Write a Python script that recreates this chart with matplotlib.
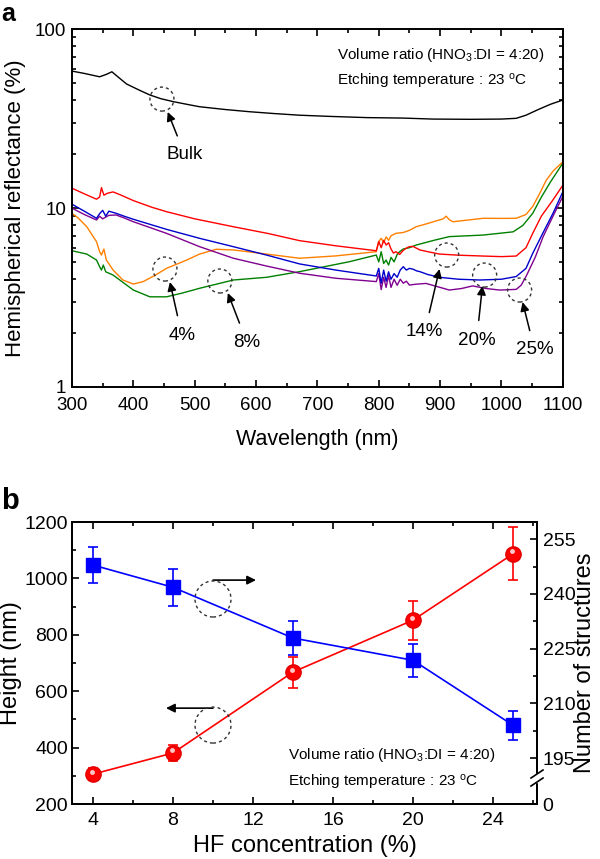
import numpy as np
import matplotlib
matplotlib.use('Agg')
import matplotlib.pyplot as plt
from matplotlib.patches import Ellipse
from matplotlib.ticker import MultipleLocator, FixedLocator, NullFormatter, FuncFormatter
from matplotlib.transforms import offset_copy

plt.rcParams['font.family'] = ['Liberation Sans', 'DejaVu Sans']
plt.rcParams['mathtext.fontset'] = 'custom'
plt.rcParams['mathtext.rm'] = 'Liberation Sans'
plt.rcParams['mathtext.it'] = 'Liberation Sans:italic'
plt.rcParams['mathtext.bf'] = 'Liberation Sans:bold'

# ---------------- Panel a data ----------------
bulk_wl = [300, 320, 345, 356, 365, 375, 389, 410, 427, 445, 465, 490, 508, 550, 590, 630, 671,
           720, 780, 840, 888, 950, 1000, 1024, 1040, 1060, 1080, 1100]
bulk_R = [58.2, 56.5, 54.1, 55.8, 57.7, 54.0, 49.3, 45.5, 42.8, 40.8, 39.3, 37.8, 36.8, 35.5, 34.5,
          33.7, 33.0, 32.5, 32.0, 31.8, 31.4, 31.3, 31.4, 31.7, 33.0, 35.5, 38.0, 40.1]

red_wl = [300, 320, 340, 345, 348, 352, 358, 367, 380, 400, 430, 454, 500, 563, 620, 671, 730, 796,
          800, 804, 808, 812, 816, 820, 824, 828, 834, 840, 846, 850, 856, 862, 867, 880, 899, 930,
          970, 1000, 1024, 1040, 1051, 1065, 1084, 1100]
red_R = [12.9, 12.0, 11.2, 11.5, 13.0, 11.8, 12.1, 12.3, 11.8, 11.0, 10.1, 9.54, 8.7, 7.86, 7.2,
         6.57, 6.15, 5.77, 6.5, 6.0, 6.6, 6.21, 6.4, 5.9, 5.6, 5.70, 5.5, 5.8, 6.0, 6.08, 6.1, 5.95,
         5.83, 5.7, 5.53, 5.45, 5.39, 5.35, 5.39, 6.0, 7.22, 9.0, 11.1, 13.4]

blue_wl = [300, 320, 340, 345, 350, 355, 360, 372, 385, 400, 454, 508, 563, 617, 671, 730, 796, 800,
           804, 808, 812, 816, 820, 825, 830, 835, 840, 845, 850, 856, 862, 867, 880, 899, 930, 965,
           1000, 1024, 1040, 1051, 1068, 1084, 1100]
blue_R = [10.5, 9.6, 8.76, 9.3, 9.7, 9.0, 9.6, 9.34, 9.0, 8.65, 7.60, 6.77, 6.08, 5.46, 4.87, 4.5,
          4.17, 4.6, 3.8, 4.5, 3.9, 4.4, 4.0, 4.3, 4.1, 4.5, 4.7, 4.5, 4.6, 4.55, 4.45, 4.41, 4.25,
          4.10, 4.0, 3.96, 4.0, 4.14, 4.6, 5.58, 7.3, 9.34, 12.3]

purple_wl = [300, 320, 340, 345, 350, 360, 372, 385, 400, 454, 508, 563, 617, 671, 730, 796, 800,
             804, 808, 812, 816, 820, 825, 830, 835, 840, 845, 850, 860, 877, 900, 915, 935, 953,
             975, 997, 1024, 1032, 1040, 1055, 1068, 1084, 1100]
purple_R = [9.98, 9.2, 8.57, 9.0, 8.7, 9.1, 9.14, 8.8, 8.38, 7.22, 6.08, 5.24, 4.74, 4.32, 4.05,
            3.88, 4.3, 3.5, 4.1, 3.6, 4.2, 3.6, 4.0, 3.7, 4.0, 3.8, 3.9, 3.71, 3.75, 3.79, 3.6, 3.48,
            3.55, 3.67, 3.55, 3.48, 3.51, 3.7, 4.14, 5.3, 6.92, 9.0, 11.6]

orange_wl = [300, 310, 324, 340, 345, 348, 352, 356, 367, 383, 400, 416, 435, 454, 487, 508, 535,
             563, 617, 671, 730, 796, 800, 804, 808, 812, 816, 820, 828, 840, 850, 861, 880, 900,
             905, 910, 915, 921, 950, 970, 1000, 1024, 1040, 1051, 1062, 1073, 1085, 1100]
orange_R = [9.34, 8.8, 7.86, 6.48, 5.7, 5.46, 5.9, 5.12, 4.50, 3.96, 3.76, 3.88, 4.2, 4.60, 5.12,
            5.53, 5.88, 5.83, 5.53, 5.24, 5.4, 5.70, 6.5, 6.77, 6.4, 6.9, 6.6, 7.0, 7.22, 7.3, 7.5,
            7.86, 8.2, 8.6, 8.7, 9.0, 8.6, 8.38, 8.6, 8.76, 8.75, 8.76, 9.2, 10.2, 12.0, 14.3, 16.2,
            18.1]

green_wl = [300, 324, 340, 345, 348, 351, 355, 367, 400, 427, 454, 480, 508, 563, 617, 671, 752,
            796, 800, 804, 808, 812, 816, 820, 825, 830, 834, 840, 850, 861, 890, 915, 970, 1019,
            1035, 1051, 1065, 1080, 1100]
green_R = [5.77, 5.53, 5.12, 4.7, 4.5, 4.8, 4.4, 4.22, 3.48, 3.19, 3.19, 3.35, 3.56, 3.96, 4.10,
           4.41, 5.01, 5.46, 5.0, 5.7, 4.9, 5.12, 4.8, 5.3, 5.0, 5.5, 5.70, 5.9, 6.0, 6.21, 6.6,
           6.92, 7.06, 7.36, 8.0, 9.34, 11.5, 14.0, 17.8]

wl_ticks = [300, 400, 500, 600, 700, 800, 900, 1000, 1100]
refl_ticks = [1, 10, 100]

# annotation labels: (label, circle centre, arrow head, text position)
annot_labels = ['Bulk', '4%', '8%', '14%', '20%', '25%']
annot_circle = [(446.6, 40.6), (451.5, 4.56), (541, 3.91), (910.7, 5.46), (972.6, 4.22), (1029.6, 3.48)]
annot_head = [(456, 34.4), (459.6, 3.86), (554, 3.35), (899, 4.56), (969, 3.67), (1034.5, 2.98)]
annot_text = [(484, 19.8), (479, 1.95), (585, 1.78), (875, 2.03), (959.6, 1.83), (1054, 1.61)]

# ---------------- Panel b data ----------------
hf_conc = [4, 8, 14, 20, 25]
height_nm = [306, 381, 668, 852, 1087]
height_err = [22, 28, 55, 69, 94]
n_struct = [247.9, 241.8, 227.9, 221.8, 204.0]
n_struct_err = [5.0, 5.0, 4.7, 4.5, 4.0]
hf_ticks = [4, 8, 12, 16, 20, 24]
height_ticks = [200, 400, 600, 800, 1000, 1200]
struct_ticks = [195, 210, 225, 240, 255]

note1 = 'Volume ratio (HNO$_3$:DI = 4:20)'
note2 = 'Etching temperature : 23 $^{\\mathrm{o}}$C'

fig = plt.figure(figsize=(6, 8.59), dpi=100)

# ================= Panel a =================
ax1 = fig.add_axes([0.12, 0.5495, 0.818, 0.4167])
series = [(bulk_wl, bulk_R, '#000000'), (green_wl, green_R, '#008000'),
          (orange_wl, orange_R, '#ff8000'), (red_wl, red_R, '#ff0000'),
          (purple_wl, purple_R, '#800090'), (blue_wl, blue_R, '#0000cc')]
for wl, R, c in series:
    ax1.plot(wl, R, color=c, lw=1.0)
ax1.set_yscale('log')
ax1.set_xlim(300, 1100)
ax1.set_ylim(1, 100)
ax1.set_xticks(wl_ticks)
ax1.xaxis.set_minor_locator(MultipleLocator(50))
ax1.set_yticks(refl_ticks)
ax1.yaxis.set_major_formatter(FuncFormatter(lambda v, p: '%g' % v))
ax1.yaxis.set_minor_formatter(NullFormatter())
ax1.tick_params(which='both', direction='in', top=True, right=True, labelsize=13.5, width=1.2)
ax1.tick_params(which='major', length=5)
ax1.tick_params(which='minor', length=3)
ax1.tick_params(axis='x', pad=7)
ax1.tick_params(axis='y', pad=4)
for s in ax1.spines.values():
    s.set_linewidth(1.4)
ax1.set_xlabel('Wavelength (nm)', fontsize=15.5, va='baseline')
ax1.set_ylabel('Hemispherical reflectance (%)', fontsize=16)
ax1.yaxis.set_label_coords(-0.093, 0.5)
ax1.xaxis.set_label_coords(0.5, -0.162)

ax1.text(731.6, 71.6, note1, fontsize=11, ha='left', va='center')
ax1.text(731.6, 51.2, note2, fontsize=11, ha='left', va='center')


def dashed_circle(ax, x, y, r_px):
    disp = ax.transData.transform((x, y))
    cx, cy = ax.transAxes.inverted().transform(disp)
    w = 2 * r_px / ax.bbox.width
    h = 2 * r_px / ax.bbox.height
    e = Ellipse((cx, cy), w, h, transform=ax.transAxes, fill=False,
                ls=(0, (2.2, 2.2)), lw=1.0, ec='#333333', zorder=5)
    ax.add_patch(e)


for lab, c, hd, tx in zip(annot_labels, annot_circle, annot_head, annot_text):
    dashed_circle(ax1, c[0], c[1], 12)
    ax1.annotate(lab, xy=hd, xytext=tx, fontsize=13.5, ha='center', va='center',
                 arrowprops=dict(arrowstyle='-|>', color='black', lw=1.1,
                                 mutation_scale=13, shrinkA=6, shrinkB=0))

fig.text(0.014, 1 - 21 / 859, 'a', fontsize=18, fontweight='bold', ha='center', va='baseline')

# ================= Panel b =================
ax2 = fig.add_axes([0.12, 0.064, 0.775, 0.3283])
ax2.errorbar(hf_conc, height_nm, yerr=height_err, color='#ff0000', marker='o', ms=11,
             mec='#e00000', capsize=3.5, capthick=1.2, elinewidth=1.2, lw=1.2, zorder=3)
ax2.plot(hf_conc, height_nm, 'o', ms=3.5, color='#ffc8c8', mec='none', zorder=4,
         transform=offset_copy(ax2.transData, fig=fig, x=-0.5, y=1.8, units='points'))
ax2.set_xlim(2.95, 26.2)
ax2.set_ylim(200, 1200)
ax2.set_xticks(hf_ticks)
ax2.xaxis.set_minor_locator(MultipleLocator(2))
ax2.set_yticks(height_ticks)
ax2.yaxis.set_minor_locator(MultipleLocator(100))
ax2.tick_params(which='both', direction='in', top=True, right=False, labelsize=14, width=1.2)
ax2.tick_params(which='major', length=5)
ax2.tick_params(which='minor', length=3)
ax2.tick_params(axis='x', pad=6)
ax2.tick_params(axis='y', pad=3)
for s in ax2.spines.values():
    s.set_linewidth(1.4)
ax2.set_xlabel('HF concentration (%)', fontsize=17, va='baseline')
ax2.set_ylabel('Height (nm)', fontsize=17)
ax2.yaxis.set_label_coords(-0.1075, 0.5)
ax2.xaxis.set_label_coords(0.5, -0.170)

ax3 = ax2.twinx()
ax3.errorbar(hf_conc, n_struct, yerr=n_struct_err, color='#0000ff', marker='s', ms=10,
             capsize=3.5, capthick=1.2, elinewidth=1.2, lw=1.2, zorder=3)
low = 182.4
ax3.set_ylim(low, 259.7)
ax3.set_yticks([low] + struct_ticks)
ax3.set_yticklabels(['0'] + [str(v) for v in struct_ticks])
ax3.yaxis.set_minor_locator(FixedLocator([202.5, 217.5, 232.5, 247.5]))
ax3.tick_params(which='both', direction='in', labelsize=14, width=1.2, pad=4)
ax3.tick_params(which='major', length=5)
ax3.tick_params(which='minor', length=3)
for s in ax3.spines.values():
    s.set_linewidth(1.4)
ax3.set_ylabel('Number of structures', fontsize=17, rotation=90)
ax3.yaxis.set_label_coords(1.08, 0.5)

# axis break marks on the right spine
H = ax3.bbox.height
W = ax3.bbox.width
yb = (804 - 778) / 282.0
gap = 4.0 / H
ax3.add_patch(plt.Rectangle((1 - 3 / W, yb - gap), 6 / W, 2 * gap, transform=ax3.transAxes,
                            color='white', clip_on=False, zorder=10))
for dy in (-gap, gap):
    ax3.plot([1 - 6 / W, 1 + 6 / W], [yb + dy - 4 / H, yb + dy + 4 / H], color='black', lw=1.2,
             transform=ax3.transAxes, clip_on=False, zorder=11)

# pointers
dashed_circle(ax2, 10, 927, 18)
ax2.annotate('', xy=(12.15, 994), xytext=(10, 994),
             arrowprops=dict(arrowstyle='-|>', color='black', lw=1.2, mutation_scale=13,
                             shrinkA=0, shrinkB=0))
dashed_circle(ax2, 10, 480, 18)
ax2.annotate('', xy=(7.65, 540), xytext=(10, 540),
             arrowprops=dict(arrowstyle='-|>', color='black', lw=1.2, mutation_scale=13,
                             shrinkA=0, shrinkB=0))

ax2.text(13.75, 374, note1, fontsize=11, ha='left', va='center')
ax2.text(13.75, 278, note2, fontsize=11, ha='left', va='center')

fig.text(0.017, 0.417, 'b', fontsize=21, fontweight='bold', ha='center', va='center')

fig.savefig('out.png', dpi=100)
